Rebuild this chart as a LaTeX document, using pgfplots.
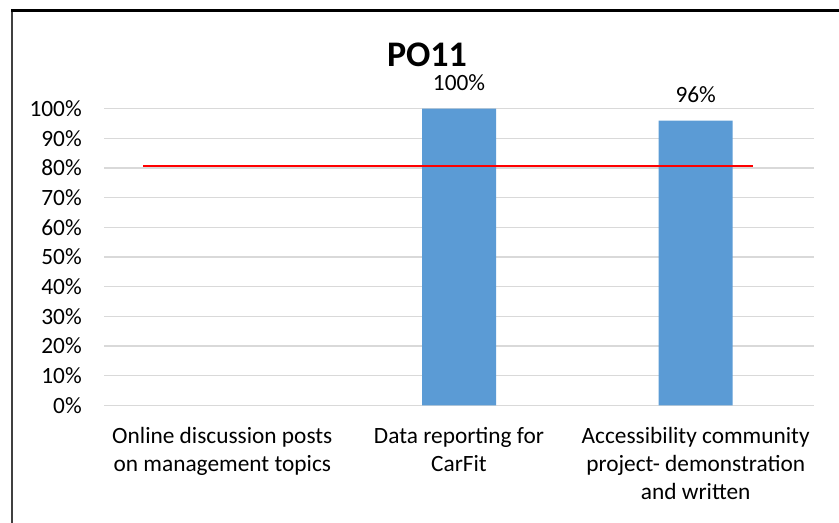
\documentclass[border=0pt]{standalone}
\usepackage{fontspec}
\setmainfont{Carlito}
\usepackage{pgfplots}
\pgfplotsset{compat=1.18}
\definecolor{barblue}{HTML}{5B9BD5}
\definecolor{gridgray}{HTML}{D9D9D9}
\definecolor{framegray}{HTML}{404040}
\newcommand\lbl{\fontsize{17.5}{21}\selectfont}
\begin{document}
\begin{tikzpicture}
\path[use as bounding box] (0pt,0pt) rectangle (629.25pt,392.25pt);
% chart frame (only left and top edges are in view)
\draw[framegray, line width=1.4pt] (8.85pt,0pt) -- (8.85pt,384.5pt);
\draw[black, line width=1.9pt] (8.1pt,384.5pt) -- (629.25pt,384.5pt);
\node[font=\bfseries\fontsize{27}{32}\selectfont, anchor=base] at (320.25pt,342pt) {PO11};
\begin{axis}[
  at={(78pt,88.275pt)}, anchor=south west, scale only axis,
  width=532.5pt, height=222.45pt,
  xmin=-0.5, xmax=2.5, ymin=0, ymax=100,
  clip=false,
  axis line style={draw=none},
  major tick length=0pt,
  ytick={0,10,...,100},
  ymajorgrids,
  grid style={gridgray, line width=1.1pt},
  /pgf/number format/assume math mode=true,
  yticklabel={\pgfmathprintnumber{\tick}\%},
  yticklabel style={font=\lbl, anchor=east, inner sep=0pt, xshift=-16.5pt},
  xtick={0,1,2},
  xticklabels={{Online discussion posts\\on management topics},
               {Data reporting for\\CarFit},
               {Accessibility community\\project- demonstration\\and written}},
  xticklabel style={font=\lbl, align=center, anchor=north, inner sep=0pt, yshift=-16pt},
]
\addplot[ybar, bar width=55.5pt, fill=barblue, draw=none,
  nodes near coords={\pgfmathprintnumber{\pgfplotspointmeta}\%},
  nodes near coords style={font=\lbl, text=black, anchor=south, inner sep=0pt, yshift=13.3pt}]
  coordinates {(1,100) (2,96)};
\addplot[red, line width=1.1pt] coordinates {(-0.334,80.7) (2.243,80.7)};
\end{axis}
\end{tikzpicture}
\end{document}
